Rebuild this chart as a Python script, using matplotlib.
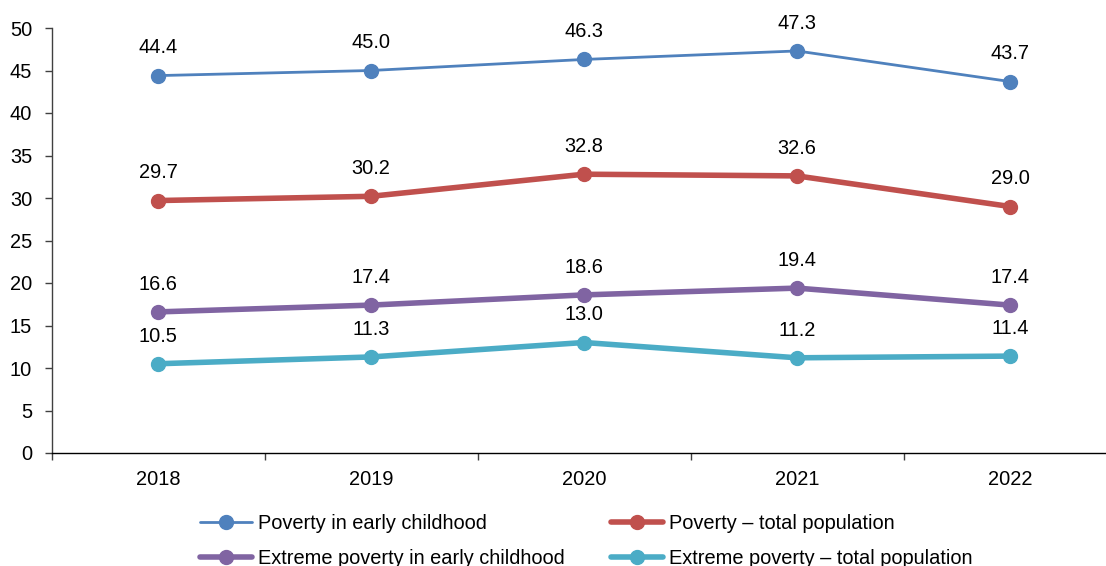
import matplotlib.pyplot as plt
import numpy as np

plt.rcParams['font.family'] = ['Liberation Sans', 'DejaVu Sans']

years = ['2018', '2019', '2020', '2021', '2022']
poverty_early = [44.4, 45.0, 46.3, 47.3, 43.7]
poverty_total = [29.7, 30.2, 32.8, 32.6, 29.0]
extreme_early = [16.6, 17.4, 18.6, 19.4, 17.4]
extreme_total = [10.5, 11.3, 13.0, 11.2, 11.4]

series = [
    ('Poverty in early childhood', poverty_early, '#4F81BD', 2.0),
    ('Poverty – total population', poverty_total, '#C0504D', 4.0),
    ('Extreme poverty in early childhood', extreme_early, '#8064A2', 4.0),
    ('Extreme poverty – total population', extreme_total, '#4BACC6', 4.0),
]
FS = 14.4

fig = plt.figure(figsize=(11.06, 5.66), dpi=100)
ax = fig.add_axes([51.5 / 1106, 113 / 566, 1065 / 1106, 425 / 566])

x = np.arange(len(years))
for label, vals, color, lw in series:
    ax.plot(x, vals, color=color, lw=lw, marker='o', markersize=10,
            label=label, solid_capstyle='round')
    for xi, v in zip(x, vals):
        ax.annotate(f'{v:.1f}', (xi, v), xytext=(0, 16), textcoords='offset points',
                    ha='center', va='baseline', fontsize=FS, color='#000000')

ax.set_xlim(-0.5, 4.5)
ax.set_ylim(0, 50)
ax.set_yticks(np.arange(0, 51, 5))
ax.set_xticks(x)
ax.set_xticklabels(years)
ax.set_xticks(np.arange(-0.5, 5, 1), minor=True)
ax.tick_params(axis='x', which='major', length=0, pad=12, labelsize=FS)
ax.tick_params(axis='x', which='minor', length=5, width=1, direction='out', color='#404040')
ax.tick_params(axis='y', length=5, width=1, direction='out', color='#404040', labelsize=FS, pad=9)

for side in ['top', 'right']:
    ax.spines[side].set_visible(False)
ax.spines['left'].set_color('#404040')
ax.spines['bottom'].set_color('#000000')
ax.spines['left'].set_linewidth(1)
ax.spines['bottom'].set_linewidth(1)

# legend fills column-wise, so reorder to read row by row
handles, labels = ax.get_legend_handles_labels()
order = [0, 2, 1, 3]
fig.legend([handles[i] for i in order], [labels[i] for i in order], ncol=2, loc='upper left',
           bbox_to_anchor=(200 / 1106, 1 - 514 / 566),
           frameon=False, fontsize=FS, borderpad=0, borderaxespad=0,
           handlelength=2.6, handletextpad=0.3, columnspacing=2.3,
           labelspacing=0.82)

fig.savefig('out.png', dpi=100)
